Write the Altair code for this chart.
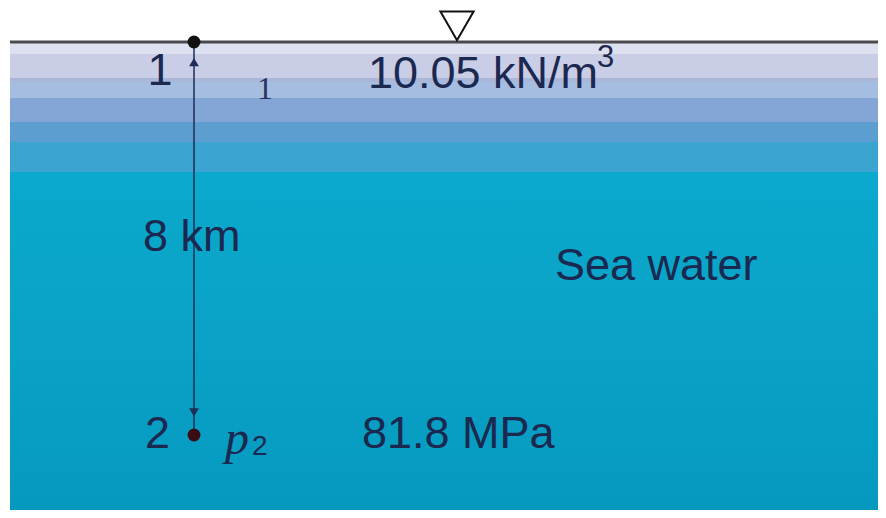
import altair as alt
import pandas as pd

# ---- data (horizontal position in % of width, depth in km) ----
X_MIN, X_MAX = 0.0, 100.0
D_MIN, D_MAX = -0.692, 9.527

# water layers (depth km)
layer_top = [0.0, 0.244, 0.733, 0.814, 1.14, 1.628, 2.036]
layer_bottom = [0.244, 0.733, 0.814, 1.14, 1.628, 2.036, 2.646]
layer_color = ["#dde0ef", "#c9cde6", "#aab7d9", "#a6bde2", "#84a6d6", "#5c9ecf", "#3ba4d1"]
deep_top, deep_bottom = 2.646, 9.527
water_left, water_right = 0.23, 100.0

# points 1 and 2
pt_x = [21.38, 21.38]
pt_depth = [0.0, 8.0]
pt_color = ["#111111", "#3a0c14"]

# arrow heads
head_x = [21.38, 21.38]
head_depth = [0.41, 7.54]
head_shape = ["triangle-up", "triangle-down"]

# free-surface symbol
surf_x = [51.61]
surf_depth = [-0.326]

# labels
lab_text = ["1", "10.05 kN/m", "8 km", "Sea water", "2", "81.8 MPa"]
lab_x = [17.47, 41.38, 15.52, 62.87, 17.18, 40.69]
lab_depth = [0.59, 0.651, 3.97, 4.55, 7.98, 7.98]
lab_align = ["center", "left", "left", "left", "center", "left"]

sup_text = ["3"]
sup_x = [67.7]
sup_depth = [0.336]

small_text = ["1"]
small_x = [29.54]
small_depth = [0.967]

p_text = ["p"]
p_x = [24.95]
p_depth = [8.39]
sub_text = ["2"]
sub_x = [28.05]
sub_depth = [8.25]

TXT = "#1b2850"

xs = alt.Scale(domain=[X_MIN, X_MAX], nice=False, zero=False)
ys = alt.Scale(domain=[D_MIN, D_MAX], reverse=True, nice=False, zero=False)
noax = None

layers_df = pd.DataFrame({"x": [water_left] * len(layer_top), "x2": [water_right] * len(layer_top),
                          "top": layer_top, "bottom": layer_bottom, "c": layer_color})
bands = alt.Chart(layers_df).mark_rect().encode(
    x=alt.X("x:Q", scale=xs, axis=noax), x2="x2:Q",
    y=alt.Y("top:Q", scale=ys, axis=noax), y2="bottom:Q",
    color=alt.Color("c:N", scale=None),
)

deep_df = pd.DataFrame({"x": [water_left], "x2": [water_right], "top": [deep_top], "bottom": [deep_bottom]})
deep = alt.Chart(deep_df).mark_rect(
    color=alt.Gradient(gradient="linear", x1=0, x2=0, y1=0, y2=1,
                       stops=[alt.GradientStop(color="#0aa9cd", offset=0),
                              alt.GradientStop(color="#0aa3c7", offset=0.45),
                              alt.GradientStop(color="#0699bf", offset=1)])
).encode(
    x=alt.X("x:Q", scale=xs, axis=noax), x2="x2:Q",
    y=alt.Y("top:Q", scale=ys, axis=noax), y2="bottom:Q",
)

surf_line_df = pd.DataFrame({"x": [water_left], "x2": [water_right], "d": [0.0]})
surf_line = alt.Chart(surf_line_df).mark_rule(color="#4a4a4e", strokeWidth=3).encode(
    x=alt.X("x:Q", scale=xs, axis=noax), x2="x2:Q",
    y=alt.Y("d:Q", scale=ys, axis=noax),
)

arrow_df = pd.DataFrame({"x": [pt_x[0]], "d1": [pt_depth[0]], "d2": [pt_depth[1]]})
arrow = alt.Chart(arrow_df).mark_rule(color="#1e2d55", strokeWidth=1.5).encode(
    x=alt.X("x:Q", scale=xs, axis=noax),
    y=alt.Y("d1:Q", scale=ys, axis=noax), y2="d2:Q",
)

heads_df = pd.DataFrame({"x": head_x, "d": head_depth, "s": head_shape})
heads = alt.Chart(heads_df).mark_point(filled=True, color="#1e2d55", size=95, opacity=1).encode(
    x=alt.X("x:Q", scale=xs, axis=noax),
    y=alt.Y("d:Q", scale=ys, axis=noax),
    shape=alt.Shape("s:N", scale=None),
)

pts_df = pd.DataFrame({"x": pt_x, "d": pt_depth, "c": pt_color})
pts = alt.Chart(pts_df).mark_circle(size=165, opacity=1).encode(
    x=alt.X("x:Q", scale=xs, axis=noax),
    y=alt.Y("d:Q", scale=ys, axis=noax),
    color=alt.Color("c:N", scale=None),
)

surf_df = pd.DataFrame({"x": surf_x, "d": surf_depth})
surf = alt.Chart(surf_df).mark_point(shape="triangle-down", size=1100, filled=True,
                                     fill="white", stroke="#111111", strokeWidth=2, opacity=1).encode(
    x=alt.X("x:Q", scale=xs, axis=noax),
    y=alt.Y("d:Q", scale=ys, axis=noax),
)


def text_layer(texts, xv, dv, size, font="Liberation Sans", style="normal", align="left",
               baseline="middle", color=TXT):
    df = pd.DataFrame({"t": texts, "x": xv, "d": dv})
    return alt.Chart(df).mark_text(fontSize=size, font=font, fontStyle=style, align=align,
                                   baseline=baseline, color=color).encode(
        x=alt.X("x:Q", scale=xs, axis=noax), y=alt.Y("d:Q", scale=ys, axis=noax), text="t:N")


lab_df = pd.DataFrame({"t": lab_text, "x": lab_x, "d": lab_depth, "a": lab_align})
lab_layers = []
for a in ["left", "center"]:
    sub = lab_df[lab_df["a"] == a]
    lab_layers.append(text_layer(list(sub["t"]), list(sub["x"]), list(sub["d"]), 45, align=a))

sup = text_layer(sup_text, sup_x, sup_depth, 31)
small = text_layer(small_text, small_x, small_depth, 32, font="Liberation Serif", align="center",
                   color="#26345e")
p_lab = text_layer(p_text, p_x, p_depth, 48, font="Liberation Serif", style="italic", baseline="alphabetic")
p_sub = text_layer(sub_text, sub_x, sub_depth, 28)

chart = alt.layer(deep, bands, surf_line, arrow, heads, pts, surf, *lab_layers, sup, small, p_lab, p_sub).properties(
    width=870, height=502, padding=0, autosize=alt.AutoSizeParams(type="none"), background="white"
).configure_view(stroke=None)

chart.save("out.html", embed_options={"renderer": "svg", "actions": False})
